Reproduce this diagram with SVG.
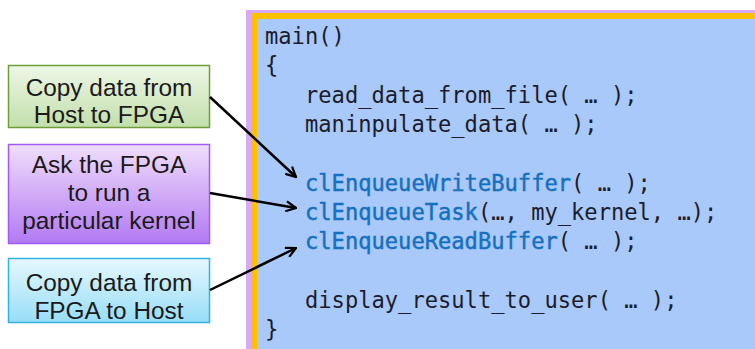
<svg xmlns="http://www.w3.org/2000/svg" width="755" height="349" viewBox="0 0 755 349">
  <defs>
    <linearGradient id="gGreen" x1="0" y1="0" x2="0" y2="1">
      <stop offset="0" stop-color="#eef7e7"/>
      <stop offset="1" stop-color="#c2dfab"/>
    </linearGradient>
    <linearGradient id="gPurple" x1="0" y1="0" x2="0" y2="1">
      <stop offset="0" stop-color="#f0defc"/>
      <stop offset="1" stop-color="#b279f2"/>
    </linearGradient>
    <linearGradient id="gBlue" x1="0" y1="0" x2="0" y2="1">
      <stop offset="0" stop-color="#e6f8fe"/>
      <stop offset="1" stop-color="#98ddf8"/>
    </linearGradient>
    <marker id="arrow" viewBox="0 0 12 12" refX="11" refY="6" markerWidth="12" markerHeight="12" markerUnits="userSpaceOnUse" orient="auto">
      <path d="M1,1 L11,6 L1,11" fill="none" stroke="#000" stroke-width="2.2" stroke-linejoin="miter"/>
    </marker>
    <style>
      .label { font-family: "Liberation Sans", Arial, sans-serif; font-size: 24.4px; fill: #1a1a1a; text-anchor: middle; }
      .code { font-family: "DejaVu Sans Mono", "Liberation Mono", monospace; font-size: 22.1px; fill: #1c1c2a; }
      .api { fill: #1670c0; stroke: #1670c0; stroke-width: 0.45px; }
      .conn { fill: none; stroke: #000; stroke-width: 2.5; marker-end: url(#arrow); }
    </style>
  </defs>

  <rect width="755" height="349" fill="#ffffff"/>

  <!-- code panel: lavender edge, orange frame, blue body -->
  <g id="code-panel">
    <rect x="246" y="10" width="509" height="339" fill="#d9a8f6"/>
    <rect x="251" y="13" width="504" height="336" fill="#ffc000"/>
    <rect x="257" y="19" width="498" height="330" fill="#a9c9fb"/>
    <text class="code" x="265" y="44">main()</text>
    <text class="code" x="265" y="73.3">{</text>
    <text class="code" x="305" y="102.6">read_data_from_file( … );</text>
    <text class="code" x="305" y="131.9">maninpulate_data( … );</text>
    <text class="code" x="305" y="190.5"><tspan class="api">clEnqueueWriteBuffer</tspan>( … );</text>
    <text class="code" x="305" y="219.8"><tspan class="api">clEnqueueTask</tspan>(…, my_kernel, …);</text>
    <text class="code" x="305" y="249.1"><tspan class="api">clEnqueueReadBuffer</tspan>( … );</text>
    <text class="code" x="305" y="307.7">display_result_to_user( … );</text>
    <text class="code" x="265" y="337">}</text>
  </g>

  <g id="write-note">
    <rect x="8.5" y="65.5" width="201" height="62" fill="url(#gGreen)" stroke="#6f9c3c" stroke-width="1.5"/>
    <text class="label" x="109" y="96">Copy data from</text>
    <text class="label" x="109" y="123">Host to FPGA</text>
  </g>

  <g id="task-note">
    <rect x="8.5" y="144.5" width="201" height="99" fill="url(#gPurple)" stroke="#a05cf0" stroke-width="1.5"/>
    <text class="label" x="109" y="173">Ask the FPGA</text>
    <text class="label" x="109" y="201">to run a</text>
    <text class="label" x="109" y="229">particular kernel</text>
  </g>

  <g id="read-note">
    <rect x="8.5" y="258.5" width="201" height="64" fill="url(#gBlue)" stroke="#33b2e3" stroke-width="1.5"/>
    <text class="label" x="109" y="291">Copy data from</text>
    <text class="label" x="109" y="319">FPGA to Host</text>
  </g>

  <g id="connectors">
    <line class="conn" x1="210" y1="97" x2="296" y2="177"/>
    <line class="conn" x1="210" y1="193" x2="296" y2="208"/>
    <line class="conn" x1="210" y1="290" x2="296" y2="248"/>
  </g>
</svg>
